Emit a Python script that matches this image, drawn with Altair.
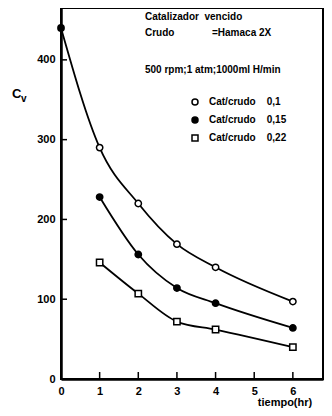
import altair as alt
import pandas as pd

# ---- data ----
tiempo = [1, 2, 3, 4, 6]
cv_01 = [290, 220, 169, 140, 97]
cv_015 = [228, 156, 114, 95, 64]
cv_022 = [146, 107, 72, 62, 40]
t0 = [0]
cv0 = [440]
series_names = ["Cat/crudo\u00a0\u00a0\u00a0\u00a00,1",
                "Cat/crudo\u00a0\u00a0\u00a0\u00a00,15",
                "Cat/crudo\u00a0\u00a0\u00a0\u00a00,22"]
x_ticks = [0, 1, 2, 3, 4, 5, 6]
y_ticks = [0, 100, 200, 300, 400]

FONT = "Liberation Sans"

rows = []
for name, vals in zip(series_names, [cv_01, cv_015, cv_022]):
    for t, v in zip(tiempo, vals):
        rows.append({"t": t, "cv": v, "serie": name})
pts = pd.DataFrame(rows)

line_rows = [{"t": t0[0], "cv": cv0[0], "serie": series_names[0]}] + rows
lines_df = pd.DataFrame(line_rows)
init_df = pd.DataFrame({"t": t0, "cv": cv0})

xs = alt.Scale(domain=[0, 6.78], nice=False, zero=False)
ys = alt.Scale(domain=[0, 465], nice=False)

x_enc = alt.X("t:Q", scale=xs,
              axis=alt.Axis(values=x_ticks, title=None, ticks=False, grid=False,
                            labelFontSize=11, labelFontWeight="bold", labelFont=FONT,
                            labelPadding=6, domainWidth=2.5, domainColor="black",
                            labelColor="black", labelFlush=False))
y_enc = alt.Y("cv:Q", scale=ys,
              axis=alt.Axis(values=y_ticks, title=None, ticks=False, grid=False,
                            labelFontSize=11, labelFontWeight="bold", labelFont=FONT,
                            labelPadding=6, domainWidth=2.5, domainColor="black",
                            labelColor="black"))

lines = alt.Chart(lines_df).mark_line(interpolate="monotone", color="black",
                                      strokeWidth=1.8).encode(
    x=x_enc, y=y_enc, detail="serie:N")

leg = alt.Legend(title=None, symbolStrokeWidth=1.5, symbolSize=36)

points = alt.Chart(pts).mark_point(filled=True, strokeWidth=1.5,
                                   size=40, opacity=1).encode(
    x=alt.X("t:Q", scale=xs),
    y=alt.Y("cv:Q", scale=ys),
    shape=alt.Shape("serie:N", sort=series_names,
                    scale=alt.Scale(domain=series_names,
                                    range=["circle", "circle", "square"]),
                    legend=leg),
    fill=alt.Fill("serie:N", sort=series_names,
                  scale=alt.Scale(domain=series_names,
                                  range=["white", "black", "white"]),
                  legend=leg),
    stroke=alt.Stroke("serie:N", sort=series_names,
                      scale=alt.Scale(domain=series_names,
                                      range=["black", "black", "black"]),
                      legend=leg),
)

init = alt.Chart(init_df).mark_point(filled=True, color="black", size=60,
                                     opacity=1).encode(
    x=alt.X("t:Q", scale=xs), y=alt.Y("cv:Q", scale=ys))

xt = alt.Chart(pd.DataFrame({"t": x_ticks[1:]})).mark_rule(
    color="black", strokeWidth=1.5).encode(
    x=alt.X("t:Q", scale=xs), y=alt.value(371), y2=alt.value(364))
yt = alt.Chart(pd.DataFrame({"cv": y_ticks[1:]})).mark_rule(
    color="black", strokeWidth=1.5).encode(
    y=alt.Y("cv:Q", scale=ys), x=alt.value(0), x2=alt.value(6))


def txt(s, x, y, size=10, align="left", weight="bold"):
    return alt.Chart(pd.DataFrame({"s": [s]})).mark_text(
        align=align, baseline="middle", fontSize=size, fontWeight=weight,
        font=FONT, color="black").encode(
        text="s:N", x=alt.value(x), y=alt.value(y))


texts = [
    txt("Catalizador\u00a0\u00a0vencido", 84, 9),
    txt("Crudo", 84, 25),
    txt("=Hamaca 2X", 151, 25),
    txt("500 rpm;1 atm;1000ml H/min", 84, 62),
    txt("C", -49, 86, size=13),
    txt("v", -40, 91, size=10),
    txt("tiempo(hr)", 224, 395, size=11, align="center"),
]

chart = alt.layer(lines, xt, yt, points, init, *texts).properties(
    width=262, height=371,
    autosize=alt.AutoSizeParams(type="none"),
    padding={"left": 53, "top": 0, "right": 1, "bottom": 29},
).configure_view(stroke="black", strokeWidth=2).configure_legend(
    orient="none", legendX=129, legendY=89, padding=0,
    labelFont=FONT, labelFontSize=10, labelFontWeight="bold", labelColor="black",
    symbolSize=36, symbolStrokeWidth=1.5,
    rowPadding=6, labelOffset=9,
)

chart.save("out.html", embed_options={"renderer": "svg", "actions": False})
